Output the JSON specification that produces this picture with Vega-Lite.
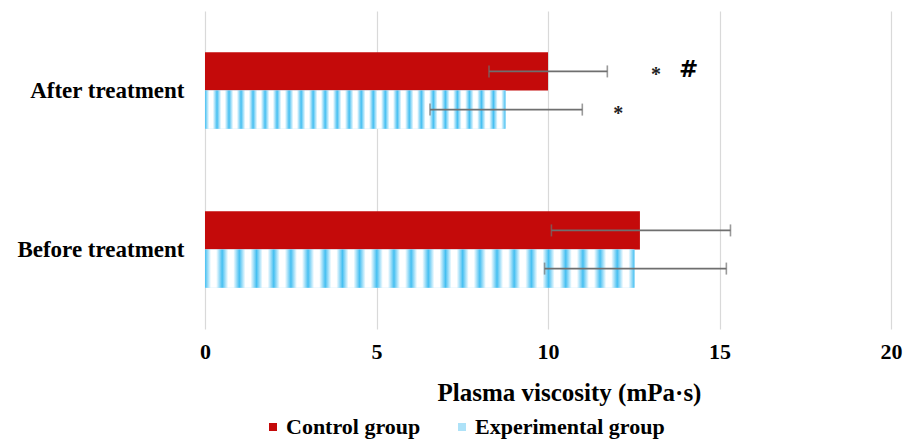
{
  "$schema": "https://vega.github.io/schema/vega-lite/v6.json",
  "autosize": "none",
  "width": 686,
  "height": 318,
  "padding": {"left": 205, "top": 11, "right": 18, "bottom": 114},
  "background": "white",
  "config": {
    "view": {"stroke": null},
    "font": "Liberation Serif",
    "axis": {"labelFont": "Liberation Serif", "titleFont": "Liberation Serif", "labelFontWeight": "bold", "titleFontWeight": "bold", "labelColor": "#000000", "titleColor": "#000000"},
    "legend": {"labelFont": "Liberation Serif", "labelFontWeight": "bold", "labelColor": "#000000"}
  },
  "datasets": {
    "bars": [
      {"stage": "After treatment", "group": "Control group", "mean": 10.0, "lo": 8.28, "hi": 11.73},
      {"stage": "After treatment", "group": "Experimental group", "mean": 8.76, "lo": 6.56, "hi": 11.0},
      {"stage": "Before treatment", "group": "Control group", "mean": 12.68, "lo": 10.1, "hi": 15.32},
      {"stage": "Before treatment", "group": "Experimental group", "mean": 12.52, "lo": 9.9, "hi": 15.2}
    ],
    "marks": [
      {"stage": "After treatment", "group": "Control group", "x": 13.15, "label": "*", "kind": "star"},
      {"stage": "After treatment", "group": "Control group", "x": 14.1, "label": "#", "kind": "hash"},
      {"stage": "After treatment", "group": "Experimental group", "x": 12.05, "label": "*", "kind": "star"}
    ]
  },
  "layer": [
    {
      "data": {"name": "bars"},
      "mark": {"type": "bar"},
      "encoding": {
        "y": {"field": "stage", "type": "nominal", "sort": ["After treatment", "Before treatment"],
              "scale": {"paddingInner": 0.52, "paddingOuter": 0.26},
              "axis": {"title": null, "ticks": false, "domain": false, "labelFontSize": 23, "labelPadding": 21, "labelLimit": 0}},
        "yOffset": {"field": "group", "type": "nominal", "sort": ["Control group", "Experimental group"]},
        "x": {"field": "mean", "type": "quantitative",
              "scale": {"domain": [0, 20]},
              "axis": {"values": [0, 5, 10, 15, 20], "title": "Plasma viscosity (mPa·s)", "titleFontSize": 25, "titlePadding": 18, "titleX": 364,
                       "labelFontSize": 22, "labelPadding": 12, "labelFlush": false, "ticks": false, "domain": false, "gridColor": "#d9d9d9", "gridWidth": 1.2}},
        "color": {"field": "group", "type": "nominal",
                  "scale": {"domain": ["Control group", "Experimental group"], "range": ["#c40a0a", "#aee2f8"]},
                  "legend": {"title": null, "orient": "none", "legendX": 57, "legendY": 405, "direction": "horizontal",
                             "labelFontSize": 22, "labelLimit": 0, "symbolType": "square", "symbolSize": 64, "columnPadding": 30, "labelOffset": 2}}
      }
    },
    {
      "data": {"name": "bars"},
      "transform": [{"filter": "datum.group === 'Experimental group'"}],
      "mark": {"type": "bar",
               "fill": {"gradient": "linear", "x1": 0, "y1": 0, "x2": 1, "y2": 0,
                 "stops": [
                   {"offset": 0.0, "color": "#45bff1"}, {"offset": 0.014, "color": "#ffffff"}, {"offset": 0.026, "color": "#ffffff"},
                   {"offset": 0.04, "color": "#45bff1"}, {"offset": 0.054, "color": "#ffffff"}, {"offset": 0.066, "color": "#ffffff"},
                   {"offset": 0.08, "color": "#45bff1"}, {"offset": 0.094, "color": "#ffffff"}, {"offset": 0.106, "color": "#ffffff"},
                   {"offset": 0.12, "color": "#45bff1"}, {"offset": 0.134, "color": "#ffffff"}, {"offset": 0.146, "color": "#ffffff"},
                   {"offset": 0.16, "color": "#45bff1"}, {"offset": 0.174, "color": "#ffffff"}, {"offset": 0.186, "color": "#ffffff"},
                   {"offset": 0.2, "color": "#45bff1"}, {"offset": 0.214, "color": "#ffffff"}, {"offset": 0.226, "color": "#ffffff"},
                   {"offset": 0.24, "color": "#45bff1"}, {"offset": 0.254, "color": "#ffffff"}, {"offset": 0.266, "color": "#ffffff"},
                   {"offset": 0.28, "color": "#45bff1"}, {"offset": 0.294, "color": "#ffffff"}, {"offset": 0.306, "color": "#ffffff"},
                   {"offset": 0.32, "color": "#45bff1"}, {"offset": 0.334, "color": "#ffffff"}, {"offset": 0.346, "color": "#ffffff"},
                   {"offset": 0.36, "color": "#45bff1"}, {"offset": 0.374, "color": "#ffffff"}, {"offset": 0.386, "color": "#ffffff"},
                   {"offset": 0.4, "color": "#45bff1"}, {"offset": 0.414, "color": "#ffffff"}, {"offset": 0.426, "color": "#ffffff"},
                   {"offset": 0.44, "color": "#45bff1"}, {"offset": 0.454, "color": "#ffffff"}, {"offset": 0.466, "color": "#ffffff"},
                   {"offset": 0.48, "color": "#45bff1"}, {"offset": 0.494, "color": "#ffffff"}, {"offset": 0.506, "color": "#ffffff"},
                   {"offset": 0.52, "color": "#45bff1"}, {"offset": 0.534, "color": "#ffffff"}, {"offset": 0.546, "color": "#ffffff"},
                   {"offset": 0.56, "color": "#45bff1"}, {"offset": 0.574, "color": "#ffffff"}, {"offset": 0.586, "color": "#ffffff"},
                   {"offset": 0.6, "color": "#45bff1"}, {"offset": 0.614, "color": "#ffffff"}, {"offset": 0.626, "color": "#ffffff"},
                   {"offset": 0.64, "color": "#45bff1"}, {"offset": 0.654, "color": "#ffffff"}, {"offset": 0.666, "color": "#ffffff"},
                   {"offset": 0.68, "color": "#45bff1"}, {"offset": 0.694, "color": "#ffffff"}, {"offset": 0.706, "color": "#ffffff"},
                   {"offset": 0.72, "color": "#45bff1"}, {"offset": 0.734, "color": "#ffffff"}, {"offset": 0.746, "color": "#ffffff"},
                   {"offset": 0.76, "color": "#45bff1"}, {"offset": 0.774, "color": "#ffffff"}, {"offset": 0.786, "color": "#ffffff"},
                   {"offset": 0.8, "color": "#45bff1"}, {"offset": 0.814, "color": "#ffffff"}, {"offset": 0.826, "color": "#ffffff"},
                   {"offset": 0.84, "color": "#45bff1"}, {"offset": 0.854, "color": "#ffffff"}, {"offset": 0.866, "color": "#ffffff"},
                   {"offset": 0.88, "color": "#45bff1"}, {"offset": 0.894, "color": "#ffffff"}, {"offset": 0.906, "color": "#ffffff"},
                   {"offset": 0.92, "color": "#45bff1"}, {"offset": 0.934, "color": "#ffffff"}, {"offset": 0.946, "color": "#ffffff"},
                   {"offset": 0.96, "color": "#45bff1"}, {"offset": 0.974, "color": "#ffffff"}, {"offset": 0.986, "color": "#ffffff"},
                   {"offset": 1.0, "color": "#45bff1"}
                 ]}},
      "encoding": {
        "y": {"field": "stage", "type": "nominal", "sort": ["After treatment", "Before treatment"]},
        "yOffset": {"field": "group", "type": "nominal", "sort": ["Control group", "Experimental group"]},
        "x": {"field": "mean", "type": "quantitative"}
      }
    },
    {
      "data": {"name": "bars"},
      "mark": {"type": "rule", "color": "#6f6f6f", "strokeWidth": 1.6},
      "encoding": {
        "y": {"field": "stage", "type": "nominal", "sort": ["After treatment", "Before treatment"]},
        "yOffset": {"field": "group", "type": "nominal", "sort": ["Control group", "Experimental group"]},
        "x": {"field": "lo", "type": "quantitative"},
        "x2": {"field": "hi"}
      }
    },
    {
      "data": {"name": "bars"},
      "mark": {"type": "tick", "color": "#6f6f6f", "thickness": 1.6, "size": 12, "orient": "vertical"},
      "encoding": {
        "y": {"field": "stage", "type": "nominal", "sort": ["After treatment", "Before treatment"]},
        "yOffset": {"field": "group", "type": "nominal", "sort": ["Control group", "Experimental group"]},
        "x": {"field": "lo", "type": "quantitative"}
      }
    },
    {
      "data": {"name": "bars"},
      "mark": {"type": "tick", "color": "#6f6f6f", "thickness": 1.6, "size": 12, "orient": "vertical"},
      "encoding": {
        "y": {"field": "stage", "type": "nominal", "sort": ["After treatment", "Before treatment"]},
        "yOffset": {"field": "group", "type": "nominal", "sort": ["Control group", "Experimental group"]},
        "x": {"field": "hi", "type": "quantitative"}
      }
    },
    {
      "data": {"name": "marks"},
      "transform": [{"filter": "datum.kind === 'star'"}],
      "mark": {"type": "text", "font": "Liberation Serif", "fontSize": 20, "fontWeight": "bold", "color": "#222222", "baseline": "middle", "dy": 4},
      "encoding": {
        "y": {"field": "stage", "type": "nominal", "sort": ["After treatment", "Before treatment"]},
        "yOffset": {"field": "group", "type": "nominal", "sort": ["Control group", "Experimental group"]},
        "x": {"field": "x", "type": "quantitative"},
        "text": {"field": "label"}
      }
    },
    {
      "data": {"name": "marks"},
      "transform": [{"filter": "datum.kind === 'hash'"}],
      "mark": {"type": "text", "font": "DejaVu Sans", "fontSize": 23, "fontWeight": "bold", "color": "#000000", "baseline": "middle", "dy": -1},
      "encoding": {
        "y": {"field": "stage", "type": "nominal", "sort": ["After treatment", "Before treatment"]},
        "yOffset": {"field": "group", "type": "nominal", "sort": ["Control group", "Experimental group"]},
        "x": {"field": "x", "type": "quantitative"},
        "text": {"field": "label"}
      }
    }
  ]
}
